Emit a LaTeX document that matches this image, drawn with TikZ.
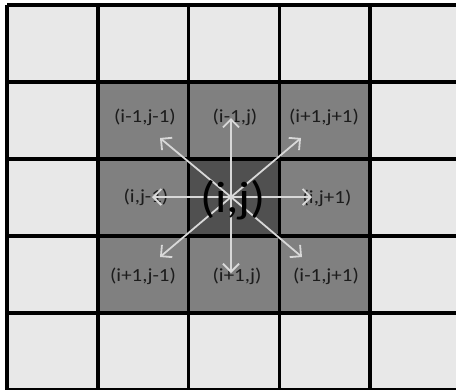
\documentclass[tikz,border=0pt]{standalone}
\usepackage{fontspec}
\setmainfont{Carlito}
\usetikzlibrary{arrows.meta}
\definecolor{lightcell}{HTML}{E8E8E8}
\definecolor{ringcell}{HTML}{808080}
\definecolor{centercell}{HTML}{505050}
\definecolor{arrowcol}{HTML}{D8D8D8}
\definecolor{txt}{HTML}{1C1C1C}
\tikzset{
  lbl/.style={text=txt, inner sep=0pt, font=\fontsize{18.5}{20}\selectfont},
  biglbl/.style={text=black, inner sep=0pt, font=\fontsize{44}{46}\selectfont},
  nbarrow/.style={draw=arrowcol, line width=1.8pt, -{Straight Barb[length=8pt,width=16pt,line width=1.8pt]}},
  gridline/.style={line width=3.6pt, black},
}
\newcommand{\wide}[1]{\scalebox{1.13}[1]{#1}}
\begin{document}
\begin{tikzpicture}[x=1pt,y=-1pt]
\useasboundingbox (0,0) rectangle (456,389);
\fill[white] (0,0) rectangle (456,389);
% cells
\foreach \i in {0,...,4}{
  \foreach \j in {0,...,4}{
    \fill[lightcell] ({7+90.8*\i},{5+77*\j}) rectangle ({7+90.8*(\i+1)},{5+77*(\j+1)});
  }
}
\foreach \i in {1,2,3}{
  \foreach \j in {1,2,3}{
    \fill[ringcell] ({7+90.8*\i},{5+77*\j}) rectangle ({7+90.8*(\i+1)},{5+77*(\j+1)});
  }
}
\fill[centercell] ({7+90.8*2},{5+77*2}) rectangle ({7+90.8*3},{5+77*3});
% grid lines
\foreach \i in {0,...,5}{
  \draw[gridline] ({7+90.8*\i},5) -- ({7+90.8*\i},395);
  \draw[gridline] (7,{5+77*\i}) -- (470,{5+77*\i});
}
% labels
\node[lbl] (nw) at (145,117) {\wide{(i-1,j-1)}};
\node[lbl] (n)  at (235,117) {\wide{(i-1,j)}};
\node[lbl] (ne) at (324,117) {\wide{(i+1,j+1)}};
\node[lbl] (w)  at (146,197) {\wide{(i,j-1)}};
\node[lbl] (e)  at (327,198) {\wide{(i,j+1)}};
\node[lbl] (sw) at (143,276) {\wide{(i+1,j-1)}};
\node[lbl] (s)  at (237,276) {\wide{(i+1,j)}};
\node[lbl] (se) at (326,276) {\wide{(i-1,j+1)}};
% arrow tips
\coordinate (o) at (231,197);
\coordinate (tn) at (231,118);
\coordinate (tnw) at (160,138);
\coordinate (tne) at (301,138);
\coordinate (tw) at (152,197);
\coordinate (te) at (312,197);
\coordinate (tsw) at (160,257);
\coordinate (ts) at (231,273);
\coordinate (tse) at (302,257);
\foreach \t in {tn,tnw,tne,tw,te,tsw,ts,tse}{
  \draw[nbarrow] (o) -- (\t);
}
\node[biglbl] (c) at (233,200) {\wide{(i,j)}};
\end{tikzpicture}
\end{document}
